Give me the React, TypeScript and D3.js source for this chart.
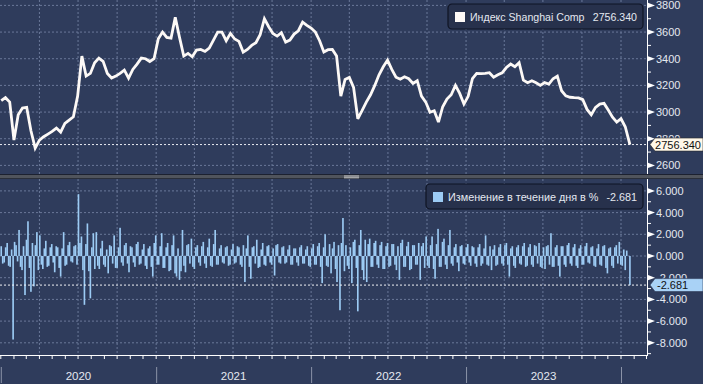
import React from 'react';
import * as d3 from 'd3';

const W = 703;
const H = 384;

// ---------- data ----------
const priceStart = '2020-01-02';
const priceStepDays = 10;
const priceLastDate = '2024-01-22';
const priceValues = [
  3085, 3108, 3075, 2790, 2980, 3030, 3035, 2860, 2730, 2790,
  2815, 2835, 2855, 2880, 2850, 2915, 2940, 2965, 3120, 3420,
  3270, 3290, 3370, 3405, 3380, 3290, 3255, 3270, 3290, 3315,
  3255, 3320, 3360, 3405, 3400, 3379, 3400, 3550, 3600, 3560,
  3555, 3710, 3560, 3420, 3440, 3415, 3465, 3470, 3455, 3480,
  3540, 3600, 3600, 3535, 3590, 3548, 3530, 3450, 3470, 3500,
  3520, 3580, 3700, 3640, 3590, 3570, 3595, 3525, 3540, 3585,
  3610, 3675, 3650, 3630, 3600, 3535, 3450, 3468, 3470, 3420,
  3120, 3245, 3260, 3185, 2950, 3010, 3075, 3130, 3200, 3280,
  3340, 3390, 3320, 3262, 3246, 3265, 3250, 3215, 3235, 3120,
  3075, 2998, 3010, 2925, 3040, 3098, 3130, 3200, 3140, 3060,
  3118, 3250, 3290, 3288, 3290, 3295, 3262, 3280, 3294, 3334,
  3360, 3340, 3370, 3240, 3220, 3235, 3220, 3200, 3221, 3210,
  3250, 3270, 3160, 3122, 3111, 3108, 3106, 3093, 3020, 2980,
  3035, 3060, 3065, 3015, 2962, 2925, 2950, 2890, 2756.34,
];

// daily % change, sampled twice a week (84 h step)
const changeStart = '2020-01-02';
const changeStepHours = 84;
const changeLastDate = '2024-01-22';
const changeValues = [
  0.9, -0.7, -0.6, 0.8, 1.2, -0.9, -1.0, 0.6, -7.7, 1.3, 1.0, -0.5, 2.4, -1.0, -1.3, 0.9, -3.6, 1.5, 3.2, -1.1,
  -3.3, 1.2, -2.8, 1.0, 2.2, -1.3, 1.9, -0.8, -1.2, 0.7, 1.4, -1.0, -0.9, 0.8, 1.1, -0.6, -1.5, 0.9, 0.8, -1.1,
  -1.9, 0.7, 2.2, -0.9, -0.8, 1.0, 1.3, -0.5, -0.6, 0.9, 1.0, -0.8, 5.7, 1.2, 1.8, -1.3, -4.5, 1.1, 3.0, -1.4,
  -3.9, 0.8, 2.1, -1.2, 2.2, -0.9, -1.2, 0.7, 1.4, -0.8, -1.0, 0.6, -1.6, 1.0, 0.9, -0.7, 1.9, -1.1, -1.1, 0.8,
  2.6, -0.6, -0.9, 1.0, 1.2, -0.7, -1.5, 0.9, 0.8, -0.6, -1.0, 1.1, 1.3, -0.8, -0.7, 0.6, 1.1, -0.9, -1.2, 0.7,
  0.9, -1.0, -1.9, 1.2, 1.9, -0.8, -0.8, 0.9, 2.1, -1.1, -1.1, 0.8, 1.2, -1.4, -1.3, 1.0, 1.9, -1.6, -1.9, 0.7,
  -2.2, -1.4, 2.4, -0.9, -1.5, 1.0, 1.1, -0.7, 1.6, -1.0, -1.2, 0.8, 1.0, -0.6, -0.9, 0.9, 1.3, -0.7, -1.1, 0.8,
  1.6, -0.9, -1.0, 1.1, 2.4, -0.8, -0.8, 0.7, 1.0, -0.6, -0.7, 0.8, 0.9, -0.9, -0.8, 0.6, 1.1, -0.7, -0.6, 0.9,
  0.8, -0.8, -1.0, 1.0, -2.4, 0.7, 1.9, -1.0, -2.1, 0.8, 0.9, -0.7, 1.5, -1.1, -1.0, 0.6, 1.2, -0.8, -0.9, 0.9,
  1.0, -0.6, -0.8, 0.7, -1.8, 1.0, 1.1, -0.6, -0.7, 0.8, 0.9, -0.7, -0.6, 0.6, 1.0, -0.8, -0.8, 0.7, 0.7, -0.6,
  -0.9, 0.8, 1.0, -0.7, -0.7, 0.6, 0.9, -0.9, -1.0, 0.7, 1.1, -0.8, -0.8, 0.9, 1.2, -1.0, -2.5, 0.8, 2.0, -0.9,
  -1.0, 1.1, -1.6, 0.7, 1.3, -1.2, -2.4, 1.0, -5.0, 1.2, 3.5, -1.4, 1.0, -0.9, -1.2, 0.8, -2.5, 1.3, 1.5, -1.1,
  -5.1, 1.0, 2.4, -1.3, -2.2, 1.5, -2.4, 1.1, 1.6, -1.0, -1.0, 1.2, 1.4, -0.8, -1.1, 1.0, 1.3, -1.2, -1.2, 0.9,
  1.2, -1.0, -0.9, 1.1, 1.1, -0.8, -1.3, 0.9, -2.2, 1.2, 1.5, -1.0, -1.0, 0.9, 1.3, -1.3, -1.2, 1.0, 1.0, -0.8,
  -0.8, 1.2, -2.2, 0.9, 1.2, -1.1, 1.8, -0.9, -1.1, 1.0, 1.8, -1.2, -2.1, 1.1, 2.5, -1.0, -1.0, 1.3, 1.6, -0.8,
  -1.2, 1.0, 2.4, -0.7, -0.9, 0.8, 1.1, -0.6, -1.4, 0.9, 1.0, -0.7, -0.8, 0.8, 1.1, -0.6, -0.9, 0.9, 0.8, -0.7,
  -1.0, 0.8, 1.1, -0.9, -0.7, 0.7, 1.9, -0.8, -0.9, 0.9, -1.3, 0.6, 1.0, -0.9, -0.8, 0.8, 1.1, -0.7, -0.9, 1.0,
  1.2, -0.8, -1.9, 0.7, 0.9, -0.9, -1.1, 0.8, 1.0, -0.7, -0.8, 0.9, 1.2, -1.0, -0.9, 0.8, 1.1, -0.8, -1.0, 1.0,
  0.9, -0.7, 1.2, -1.0, -1.1, 0.8, -1.2, 0.9, 1.0, -0.8, 2.1, -1.0, -1.0, 0.8, 1.0, -0.9, -1.9, 0.9, 0.9, -0.8,
  -1.0, 1.0, 1.2, -0.7, -0.9, 0.8, 1.1, -0.9, -1.1, 0.7, 1.0, -0.8, -0.8, 0.9, 1.2, -0.6, -0.7, 0.8, 0.9, -0.9,
  -1.0, 0.7, 1.1, -0.8, -0.9, 0.9, 1.0, -1.1, -1.6, 0.7, 0.8, -0.9, -1.1, 0.8, 1.0, -0.7, 1.3, -0.8, -0.9, 0.6,
  -1.3, 0.5, -2.681,
];

const priceTicks = [2600, 2800, 3000, 3200, 3400, 3600, 3800];
const priceMinorTicks = [2700, 2900, 3100, 3300, 3500, 3700];
const changeTicks = [-8, -6, -4, -2, 0, 2, 4, 6];
const changeMinorTicks = [-9, -7, -5, -3, -1, 1, 3, 5];
const yearLabels = ['2020', '2021', '2022', '2023'];
const priceName = 'Индекс Shanghai Comp';
const changeName = 'Изменение в течение дня в %';
const priceLastLabel = '2756.340';
const changeLastLabel = '-2.681';

// ---------- styling ----------
const BG = '#2f3c5c';
const GRID = '#6a7899';
const TEXT = '#e4e8f0';
const PRICE_COLOR = '#fdf9f6';
const BAR_COLOR = '#9ccbf4';
const FONT = '"Liberation Sans", Arial, sans-serif';

const parse = d3.timeParse('%Y-%m-%d');

const priceData = (() => {
  const s = parse(priceStart) as Date;
  const n = priceValues.length;
  return priceValues.map((v, i) => ({
    date: i === n - 1 ? (parse(priceLastDate) as Date) : d3.timeDay.offset(s, i * priceStepDays),
    value: v,
  }));
})();
const changeData = (() => {
  const s = parse(changeStart) as Date;
  const n = changeValues.length;
  return changeValues.map((v, i) => ({
    date: i === n - 1 ? (parse(changeLastDate) as Date) : d3.timeHour.offset(s, i * changeStepHours),
    value: v,
  }));
})();

export default function App() {
  const axisX = 647;
  const topY0 = 0;
  const topY1 = 174;
  const botY0 = 179;
  const botY1 = 355;

  const x = d3
    .scaleTime()
    .domain([new Date(2020, 0, 1), new Date(2024, 0, 1)])
    .range([0.8, 621]);
  const yP = d3.scaleLinear().domain([2600, 3800]).range([165.4, 5.4]);
  const yC = d3.scaleLinear().domain([-8, 6]).range([342.8, 190.9]);

  const quarters = d3.timeMonth
    .every(3)!
    .range(new Date(2020, 0, 1), new Date(2024, 3, 2))
    .map((d) => x(d))
    .filter((px) => px > 3 && px < axisX);
  const months = d3.timeMonth
    .range(new Date(2020, 0, 1), new Date(2024, 2, 2))
    .map((d) => x(d))
    .filter((px) => px < axisX);
  const yearStarts = d3.range(yearLabels.length + 1).map((i) => x(new Date(2020 + i, 0, 1)));

  const line = d3
    .line<{ date: Date; value: number }>()
    .x((d) => x(d.date))
    .y((d) => yP(d.value))
    .curve(d3.curveLinear);

  const lastP = priceData[priceData.length - 1];
  const lastC = changeData[changeData.length - 1];
  const yLastP = yP(lastP.value);
  const yLastC = yC(lastC.value);
  const s0 = parse(changeStart) as Date;
  const bw = x(d3.timeHour.offset(s0, changeStepHours)) - x(s0) + 0.15;

  const tri = (y: number) => `${axisX + 1},${y - 2.6} ${axisX + 8},${y} ${axisX + 1},${y + 2.6}`;
  const flag = (y: number) => `${axisX + 3},${y} ${axisX + 8},${y - 6.5} ${W},${y - 6.5} ${W},${y + 6.5} ${axisX + 8},${y + 6.5}`;

  return (
    <svg width={W} height={H} style={{ position: 'absolute', left: 0, top: 0, display: 'block' }} fontFamily={FONT}>
      <defs>
        <clipPath id="clipTop">
          <rect x={0} y={topY0} width={axisX} height={topY1 - topY0} />
        </clipPath>
        <clipPath id="clipBot">
          <rect x={0} y={botY0} width={axisX} height={botY1 - botY0} />
        </clipPath>
      </defs>
      <rect x={0} y={0} width={W} height={H} fill={BG} />

      {/* grid: top */}
      {quarters.map((px, i) => (
        <line key={'qt' + i} x1={px} x2={px} y1={topY0} y2={topY1} stroke={GRID} strokeDasharray="2,2" strokeWidth={1} />
      ))}
      {priceTicks.map((t) => (
        <line key={'pg' + t} x1={0} x2={axisX} y1={yP(t)} y2={yP(t)} stroke={GRID} strokeDasharray="2,2" />
      ))}
      {/* grid: bottom */}
      {quarters.map((px, i) => (
        <line key={'qb' + i} x1={px} x2={px} y1={botY0} y2={botY1} stroke={GRID} strokeDasharray="2,2" strokeWidth={1} />
      ))}
      {changeTicks.map((t) => (
        <line key={'cg' + t} x1={0} x2={axisX} y1={yC(t)} y2={yC(t)} stroke={GRID} strokeDasharray="2,2" />
      ))}

      {/* last value dashed line (top) */}
      <line x1={0} x2={axisX} y1={yLastP} y2={yLastP} stroke="#e8ebf2" strokeDasharray="2,2" />

      {/* price line */}
      <g clipPath="url(#clipTop)">
        <path d={line(priceData) || ''} fill="none" stroke={PRICE_COLOR} strokeWidth={2.8} strokeLinejoin="miter" strokeMiterlimit={3} />
      </g>

      {/* change bars */}
      <g clipPath="url(#clipBot)">
        {changeData.map((d, i) => {
          const y0 = yC(0);
          const y1 = yC(d.value);
          return (
            <rect
              key={'b' + i}
              x={x(d.date) - bw / 2}
              y={Math.min(y0, y1)}
              width={bw}
              height={Math.max(0.8, Math.abs(y1 - y0))}
              fill={BAR_COLOR}
            />
          );
        })}
      </g>
      <line x1={0} x2={axisX} y1={yLastC} y2={yLastC} stroke="#f0f2f6" strokeDasharray="2,2" />

      {/* divider */}
      <rect x={0} y={topY1} width={W} height={botY0 - topY1} fill="#50545c" />
      <line x1={0} x2={W} y1={topY1 + 0.5} y2={topY1 + 0.5} stroke="#1c2130" />
      <line x1={0} x2={W} y1={botY0 - 0.5} y2={botY0 - 0.5} stroke="#2a2f3a" />
      <line x1={344} x2={359} y1={176} y2={176} stroke="#c8c8c8" />
      <line x1={344} x2={359} y1={177.8} y2={177.8} stroke="#c8c8c8" />

      {/* right axes */}
      <line x1={axisX + 0.5} x2={axisX + 0.5} y1={topY0} y2={topY1} stroke="#ffffff" />
      <line x1={axisX + 0.5} x2={axisX + 0.5} y1={botY0} y2={botY1} stroke="#ffffff" />
      {priceMinorTicks.map((t) => (
        <line key={'pm' + t} x1={axisX} x2={axisX + 4} y1={yP(t)} y2={yP(t)} stroke="#ffffff" />
      ))}
      {changeMinorTicks.map((t) => (
        <line key={'cm' + t} x1={axisX} x2={axisX + 4} y1={yC(t)} y2={yC(t)} stroke="#ffffff" />
      ))}
      {priceTicks.map((t) => (
        <g key={'pt' + t}>
          <polygon points={tri(yP(t))} fill="#ffffff" />
          <text x={axisX + 9} y={yP(t)} dy="0.36em" fontSize={11} fill={TEXT}>
            {String(t)}
          </text>
        </g>
      ))}
      {changeTicks.map((t) => (
        <g key={'ct' + t}>
          <polygon points={tri(yC(t))} fill="#ffffff" />
          <text x={axisX + 9} y={yC(t)} dy="0.36em" fontSize={11} fill={TEXT}>
            {d3.format('.3f')(t).replace('−', '-')}
          </text>
        </g>
      ))}

      {/* last value flags */}
      <polygon points={flag(yLastP)} fill="#fff8ea" stroke="#2a2a2a" strokeWidth={0.6} />
      <text x={W - 2} y={yLastP} dy="0.36em" fontSize={11} fill="#111" textAnchor="end">
        {priceLastLabel}
      </text>
      <polygon points={flag(yLastC)} fill="#a9d2f6" stroke="#2a3450" strokeWidth={0.6} />
      <text x={axisX + 10} y={yLastC} dy="0.36em" fontSize={11} fill="#111">
        {changeLastLabel}
      </text>

      {/* bottom time axis */}
      <line x1={0} x2={axisX + 1} y1={botY1 + 0.5} y2={botY1 + 0.5} stroke="#ffffff" />
      {months.map((px, i) => (
        <line key={'m' + i} x1={px} x2={px} y1={botY1} y2={botY1 + 4} stroke="#ffffff" />
      ))}
      {yearStarts.map((px, i) => (
        <line key={'ys' + i} x1={px + 0.5} x2={px + 0.5} y1={367} y2={383} stroke="#8b93a8" />
      ))}
      {yearLabels.map((lab, i) => (
        <text
          key={'yl' + lab}
          x={(yearStarts[i] + yearStarts[i + 1]) / 2}
          y={380}
          fontSize={11.5}
          fill={TEXT}
          textAnchor="middle"
        >
          {lab}
        </text>
      ))}

      {/* legends */}
      <rect x={448} y={4} width={195} height={25} rx={4} fill="#27314c" stroke="#0f1424" strokeWidth={1.2} />
      <rect x={455} y={12} width={10} height={10} fill={PRICE_COLOR} />
      <text x={470} y={17} dy="0.36em" fontSize={10.6} fill={TEXT}>
        {priceName}
      </text>
      <text x={637} y={17} dy="0.36em" fontSize={10.6} fill={TEXT} textAnchor="end">
        {priceLastLabel}
      </text>

      <rect x={426} y={184} width={217} height={25} rx={4} fill="#27314c" stroke="#0f1424" strokeWidth={1.2} />
      <rect x={433} y={192} width={10} height={10} fill={BAR_COLOR} />
      <text x={448} y={197} dy="0.36em" fontSize={10.8} fill={TEXT}>
        {changeName}
      </text>
      <text x={637} y={197} dy="0.36em" fontSize={10.8} fill={TEXT} textAnchor="end">
        {changeLastLabel}
      </text>
    </svg>
  );
}
